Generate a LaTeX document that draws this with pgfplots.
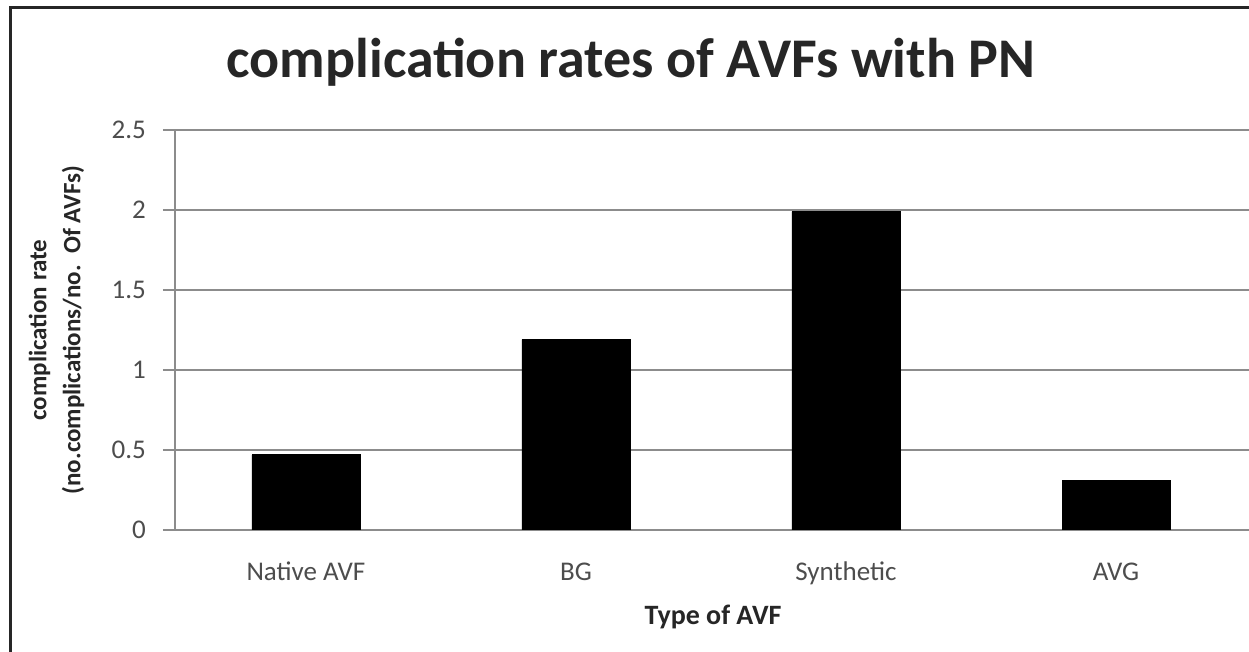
\documentclass[border=0pt]{standalone}
\usepackage{fontspec}
\setmainfont{Carlito}
\usepackage{pgfplots}
\pgfplotsset{compat=1.18}
\definecolor{gridgray}{HTML}{8C8C8C}
\definecolor{ticktext}{HTML}{4D4D4D}
\definecolor{labeltext}{HTML}{262626}
\begin{document}
\begin{tikzpicture}
\clip (0,0) rectangle (624.5pt,326pt);
\fill[white] (0,0) rectangle (624.5pt,326pt);
\draw[black!85, line width=1.5pt] (5pt,0) -- (5pt,322pt) -- (630pt,322pt);
\begin{axis}[
  at={(87.5pt,61pt)}, anchor=south west,
  scale only axis,
  width=538pt, height=200pt,
  xmin=-0.485, xmax=3.5,
  ymin=0, ymax=2.5,
  ytick={0,0.5,1,1.5,2,2.5},
  xtick=data,
  xticklabels={Native AVF, BG, Synthetic, AVG},
  axis x line*=bottom, axis y line*=left,
  axis line style={gridgray, line width=1pt},
  ymajorgrids,
  grid style={gridgray, line width=1pt},
  major y tick style={gridgray, line width=1pt},
  major x tick style={draw=none},
  tick align=outside,
  major tick length=6pt,
  /pgf/number format/assume math mode=true,
  ticklabel style={font=\fontsize{13.5}{15}\selectfont, text=ticktext},
  xticklabel style={yshift=-9pt, text height=1.4ex, text depth=0.4ex},
  yticklabel style={xshift=-5pt},
  title={complication rates of AVFs with PN},
  title style={at={(axis description cs:0.4238,1.14)}, anchor=center, font=\bfseries\fontsize{28}{32}\selectfont, text=labeltext},
  xlabel={Type of AVF},
  xlabel style={at={(axis description cs:0.5,-0.2175)}, anchor=center, font=\bfseries\fontsize{14}{16}\selectfont, text=labeltext},
  ylabel={complication rate\\(no.complications/no.\ \ Of AVFs)},
  ylabel style={at={(axis description cs:-0.11,0.5)}, anchor=center, align=center, font=\bfseries\fontsize{12.5}{17}\selectfont, text=labeltext},
]
\addplot[ybar, bar width=54pt, fill=black, draw=black] coordinates {(0,0.47) (1,1.19) (2,1.99) (3,0.31)};
\end{axis}
\end{tikzpicture}
\end{document}
